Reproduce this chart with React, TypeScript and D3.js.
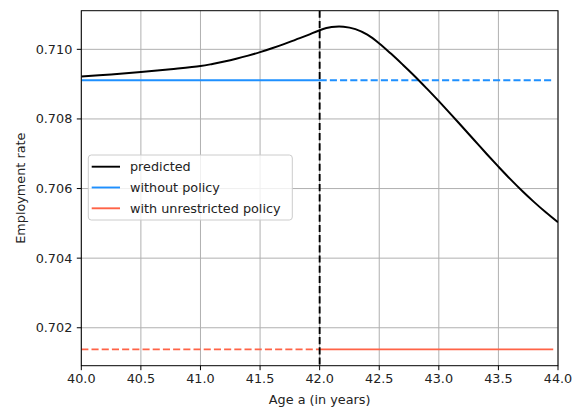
import React from "react";
import * as d3 from "d3";

const ages = [40.0, 40.25, 40.5, 40.75, 41.0, 41.1, 41.2, 41.3, 41.4, 41.5, 41.6, 41.7, 41.8, 41.9, 42.0, 42.1, 42.2, 42.3, 42.4, 42.5, 42.6, 42.7, 42.8, 42.9, 43.0, 43.1, 43.2, 43.3, 43.4, 43.5, 43.6, 43.7, 43.8, 43.9, 44.0];
const predicted = [0.70922, 0.70928, 0.70935, 0.70943, 0.70952, 0.70958, 0.70965, 0.70973, 0.70982, 0.70992, 0.71003, 0.71015, 0.71028, 0.71041, 0.71055, 0.71064, 0.71065, 0.71058, 0.71042, 0.71017, 0.70987, 0.70955, 0.70922, 0.70887, 0.70851, 0.70814, 0.70776, 0.70738, 0.70700, 0.70663, 0.70627, 0.70593, 0.70561, 0.70531, 0.70503];
const policyStart = 42.0;
const seriesEnd = 43.96;
const withoutPolicy = 0.70911;
const unrestrictedPolicy = 0.70138;
const xTicks = [40.0, 40.5, 41.0, 41.5, 42.0, 42.5, 43.0, 43.5, 44.0];
const yTicks = [0.702, 0.704, 0.706, 0.708, 0.71];
const legendLabels = ["predicted", "without policy", "with unrestricted policy"];
const legendColors = ["#000000", "#1E90FF", "#FF6347"];

const W = 577, H = 411;
const L = 81.3, R = 558, T = 10.7, B = 365.7;
const FONT = "DejaVu Sans, sans-serif";
const FS = 12.8;
const LW = 1.9;

export default function App() {
  const x = d3.scaleLinear().domain([40, 44]).range([L, R]);
  const y = d3.scaleLinear().domain([0.70091, 0.71111]).range([B, T]);
  const line = d3.line<[number, number]>().x(d => x(d[0])).y(d => y(d[1])).curve(d3.curveCatmullRom.alpha(0.5));
  const predPath = line(ages.map((a, i) => [a, predicted[i]] as [number, number])) || "";
  const seg = (a0: number, a1: number, v: number) =>
    d3.line<[number, number]>().x(d => x(d[0])).y(d => y(d[1]))([[a0, v], [a1, v]]) || "";
  const dash = "7.1,3.1";

  return (
    <svg width={W} height={H} style={{ position: "absolute", left: 0, top: 0, background: "#fff" }} fontFamily={FONT}>
      <defs>
        <clipPath id="plotclip"><rect x={L} y={T} width={R - L} height={B - T} /></clipPath>
      </defs>
      <rect x={0} y={0} width={W} height={H} fill="#fff" />
      <g stroke="#b0b0b0" strokeWidth={1}>
        {xTicks.map(t => <line key={"gx" + t} x1={x(t)} x2={x(t)} y1={T} y2={B} />)}
        {yTicks.map(t => <line key={"gy" + t} x1={L} x2={R} y1={y(t)} y2={y(t)} />)}
      </g>
      <g clipPath="url(#plotclip)" fill="none" strokeWidth={LW}>
        <path d={seg(40, policyStart, withoutPolicy)} stroke={legendColors[1]} />
        <path d={seg(policyStart, seriesEnd, withoutPolicy)} stroke={legendColors[1]} strokeDasharray={dash} />
        <path d={seg(40, policyStart, unrestrictedPolicy)} stroke={legendColors[2]} strokeDasharray={dash} />
        <path d={seg(policyStart, seriesEnd, unrestrictedPolicy)} stroke={legendColors[2]} />
        <path d={predPath} stroke="#000" strokeWidth={2} />
        <line x1={x(policyStart)} x2={x(policyStart)} y1={T} y2={B} stroke="#000" strokeDasharray={dash} />
      </g>
      <rect x={L} y={T} width={R - L} height={B - T} fill="none" stroke="#000" strokeWidth={1} />
      {xTicks.map(t => (
        <g key={"xt" + t}>
          <line x1={x(t)} x2={x(t)} y1={B} y2={B + 4.5} stroke="#000" strokeWidth={1} />
          <text x={x(t)} y={B + 8} fontSize={FS} textAnchor="middle" dominantBaseline="hanging" fill="#222">{t.toFixed(1)}</text>
        </g>
      ))}
      {yTicks.map(t => (
        <g key={"yt" + t}>
          <line x1={L - 4.5} x2={L} y1={y(t)} y2={y(t)} stroke="#000" strokeWidth={1} />
          <text x={L - 9} y={y(t)} fontSize={FS} textAnchor="end" dominantBaseline="central" fill="#222">{t.toFixed(3)}</text>
        </g>
      ))}
      <text x={(L + R) / 2} y={399.5} fontSize={FS} textAnchor="middle" dominantBaseline="central" fill="#222">Age a (in years)</text>
      <text transform={`translate(20,${(T + B) / 2}) rotate(-90)`} fontSize={FS} textAnchor="middle" dominantBaseline="central" fill="#222">Employment rate</text>
      <g>
        <rect x={88.3} y={155} width={204} height={65} rx={3} fill="#fff" fillOpacity={0.8} stroke="#cccccc" strokeWidth={1} />
        {legendLabels.map((lab, i) => {
          const cy = 166.7 + i * 20.8;
          return (
            <g key={lab}>
              <line x1={91.7} x2={120} y1={cy} y2={cy} stroke={legendColors[i]} strokeWidth={LW} />
              <text x={130} y={cy} fontSize={FS} dominantBaseline="central" fill="#222">{lab}</text>
            </g>
          );
        })}
      </g>
    </svg>
  );
}
